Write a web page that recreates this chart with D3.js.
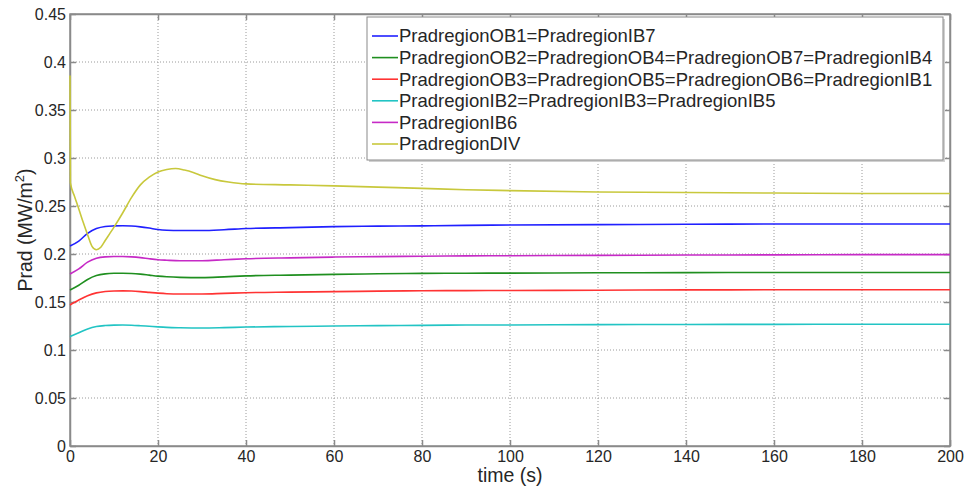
<!DOCTYPE html>
<html><head><meta charset="utf-8">
<script src="https://cdn.jsdelivr.net/npm/d3@7"></script>
<style>body{margin:0;background:#fff}svg{display:block}text{font-family:Arial,"Liberation Sans",sans-serif;fill:#262626}</style>
</head><body><svg id="c" width="966" height="488"></svg>
<script>
const time = [0,2,4,6,8,10,12,14,16,18,20,22,25,30,35,40,50,60,70,80,90,100,120,140,160,180,200];
const timeDiv = [0,0.1,1,2,3,4,5,6,7,8,9,10,12,14,16,18,20,22,24,26,28,30,33,36,40,50,60,70,80,90,100,120,140,160,180,200];
const blue = [0.2083,0.2135,0.2215,0.2265,0.2287,0.2293,0.2295,0.2292,0.2283,0.227,0.2255,0.2248,0.2245,0.2245,0.2253,0.2265,0.2275,0.2285,0.229,0.2293,0.2298,0.2302,0.2306,0.231,0.2312,0.2313,0.2313];
const green = [0.1625,0.1675,0.1735,0.1775,0.1793,0.1799,0.18,0.1797,0.179,0.178,0.177,0.1763,0.1757,0.1754,0.1762,0.1772,0.178,0.1788,0.1794,0.1798,0.18,0.1801,0.1804,0.1806,0.1807,0.1807,0.1808];
const red = [0.1469,0.152,0.1565,0.1595,0.161,0.1615,0.1616,0.1614,0.1608,0.16,0.1592,0.1586,0.1583,0.1583,0.159,0.1597,0.1603,0.1608,0.1613,0.1617,0.1619,0.162,0.1623,0.1626,0.1627,0.1628,0.1628];
const cyan = [0.1139,0.118,0.122,0.1245,0.1255,0.1259,0.126,0.1258,0.1253,0.1247,0.1241,0.1236,0.1232,0.1229,0.1233,0.1239,0.1245,0.125,0.1254,0.1257,0.126,0.1261,0.1264,0.1266,0.1267,0.1268,0.1268];
const magenta = [0.1792,0.1845,0.1915,0.1955,0.197,0.1974,0.1974,0.197,0.1962,0.195,0.194,0.1935,0.193,0.193,0.194,0.195,0.196,0.1968,0.1973,0.1977,0.198,0.1982,0.1986,0.1989,0.1991,0.1993,0.1994];
const yellow = [0.386,0.274,0.2605,0.247,0.233,0.22,0.208,0.2045,0.207,0.214,0.221,0.228,0.243,0.259,0.272,0.28,0.2855,0.288,0.289,0.2875,0.285,0.2815,0.2775,0.275,0.273,0.272,0.271,0.2697,0.2684,0.267,0.266,0.2646,0.264,0.2635,0.263,0.263];
const seriesNames = ["PradregionOB1=PradregionIB7","PradregionOB2=PradregionOB4=PradregionOB7=PradregionIB4","PradregionOB3=PradregionOB5=PradregionOB6=PradregionIB1","PradregionIB2=PradregionIB3=PradregionIB5","PradregionIB6","PradregionDIV"];
const seriesColors = ["#2020ff","#1f8f1f","#ff3333","#22c4c4","#c62ac6","#c8c83c"];
const xTicks = [0,20,40,60,80,100,120,140,160,180,200];
const yTicks = [0,0.05,0.1,0.15,0.2,0.25,0.3,0.35,0.4,0.45];

const svg = d3.select("#c");
const L=70,R=950,T=14,B=446;
const x = d3.scaleLinear().domain([0,200]).range([L,R]);
const y = d3.scaleLinear().domain([0,0.45]).range([B,T]);
const FONT = "Arial, 'Liberation Sans', sans-serif";

// grid
const g = svg.append("g");
g.selectAll(".gx").data(xTicks.slice(1,-1)).enter().append("line")
 .attr("x1",d=>x(d)).attr("x2",d=>x(d)).attr("y1",T).attr("y2",B)
 .attr("stroke","#9a9a9a").attr("stroke-width",1).attr("stroke-dasharray","1,2");
g.selectAll(".gy").data(yTicks.slice(1,-1)).enter().append("line")
 .attr("x1",L).attr("x2",R).attr("y1",d=>y(d)).attr("y2",d=>y(d))
 .attr("stroke","#9a9a9a").attr("stroke-width",1).attr("stroke-dasharray","1,2");

// axes box and axes
const axC="#8a8a8a";
svg.append("rect").attr("x",L).attr("y",T).attr("width",R-L).attr("height",B-T)
 .attr("fill","none").attr("stroke",axC).attr("stroke-width",1.5);
const xa = svg.append("g").attr("transform",`translate(0,${B})`)
 .call(d3.axisBottom(x).tickValues(xTicks).tickSizeInner(-6).tickSizeOuter(0).tickPadding(5).tickFormat(d3.format("d")));
const xa2 = svg.append("g").attr("transform",`translate(0,${T})`)
 .call(d3.axisTop(x).tickValues(xTicks).tickSizeInner(-6).tickSizeOuter(0).tickFormat(""));
const ya = svg.append("g").attr("transform",`translate(${L},0)`)
 .call(d3.axisLeft(y).tickValues(yTicks).tickSizeInner(-6).tickSizeOuter(0).tickPadding(4).tickFormat(d=>d3.format("")(+d.toFixed(2))));
const ya2 = svg.append("g").attr("transform",`translate(${R},0)`)
 .call(d3.axisRight(y).tickValues(yTicks).tickSizeInner(-6).tickSizeOuter(0).tickFormat(""));
[xa,xa2,ya,ya2].forEach(a=>{
  a.select(".domain").attr("stroke",axC).attr("stroke-width",1.5);
  a.selectAll(".tick line").attr("stroke",axC).attr("stroke-width",1.5);
  a.selectAll("text").attr("font-size",16).attr("font-family",FONT).attr("fill","#262626");
});
xa.selectAll("text").attr("dy","0.71em");
ya.selectAll("text").attr("dy","0.35em");

// lines (drawn above the axes, as in the reference)
const data = [
 {t:time,v:blue},{t:time,v:green},{t:time,v:red},{t:time,v:cyan},{t:time,v:magenta},{t:timeDiv,v:yellow}
];
const line = d3.line().x(d=>x(d[0])).y(d=>y(d[1])).curve(d3.curveMonotoneX);
data.forEach((s,i)=>{
  svg.append("path").attr("d",line(s.t.map((t,j)=>[t,s.v[j]])))
   .attr("fill","none").attr("stroke",seriesColors[i]).attr("stroke-width",1.6);
});

// axis labels
svg.append("text").attr("x",(L+R)/2).attr("y",482).attr("text-anchor","middle").attr("font-size",19.5).text("time (s)");
const yl = svg.append("text").attr("transform","translate(32,230) rotate(-90)").attr("text-anchor","middle").attr("font-size",19.5);
yl.append("tspan").text("Prad (MW/m");
yl.append("tspan").attr("font-size",13).attr("dy",-8).text("2");
yl.append("tspan").attr("dy",8).text(")");

// legend
const lg = svg.append("g");
lg.append("rect").attr("x",369).attr("y",19).attr("width",576).attr("height",143).attr("fill","#d0d0d0");
lg.append("rect").attr("x",367).attr("y",17).attr("width",576).attr("height",143).attr("fill","#fff").attr("stroke","#8a8a8a").attr("stroke-width",1);
seriesNames.forEach((n,i)=>{
  const yy = 36 + i*21.6;
  lg.append("line").attr("x1",372).attr("x2",398).attr("y1",yy).attr("y2",yy).attr("stroke",seriesColors[i]).attr("stroke-width",1.6);
  lg.append("text").attr("x",399).attr("y",yy).attr("dy","0.35em").attr("font-size",18.5).text(n);
});
</script></body></html>
